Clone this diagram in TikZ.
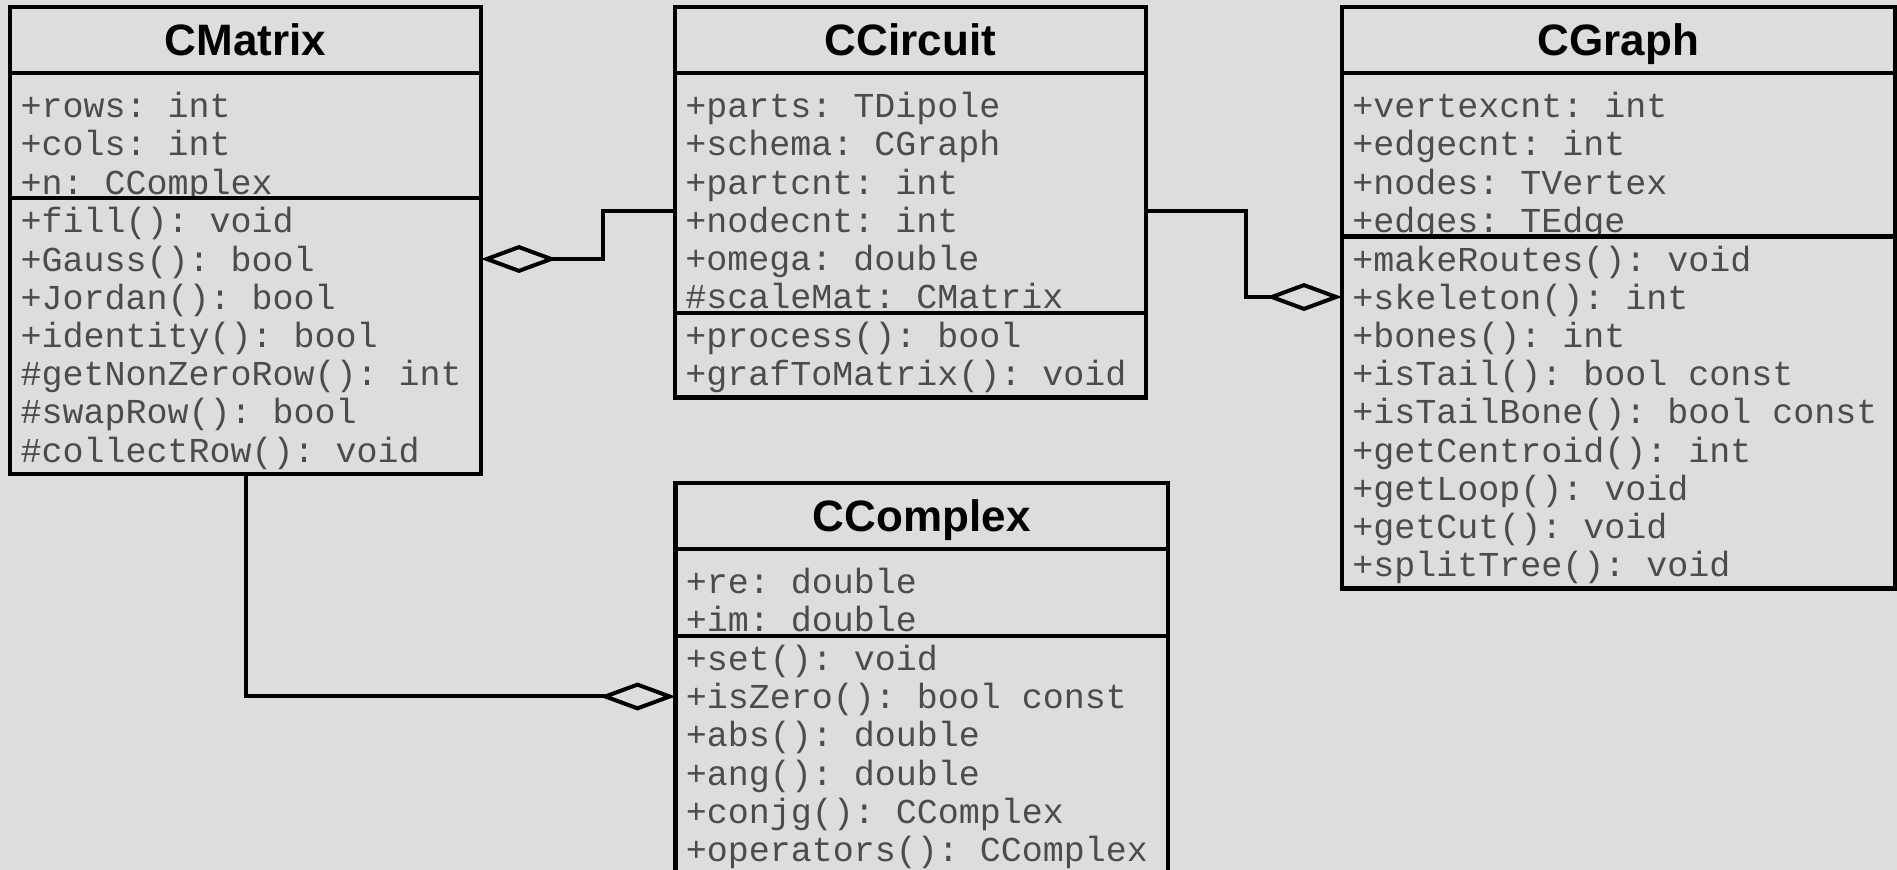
\documentclass[tikz,border=0pt]{standalone}
\usepackage{fontspec}
\usetikzlibrary{arrows.meta,positioning}
\newfontfamily\headfont{Liberation Sans}
\newfontfamily\memberfont{Liberation Mono}
\newcommand\memberstyle{\memberfont\fontsize{17.5}{19.1}\selectfont\frenchspacing}
% fixed-width blanks inside the member lists
\newcommand\memberspace{\spaceskip=10.5pt\relax\xspaceskip=10.5pt\relax}
\definecolor{bgcolor}{RGB}{221,221,221}

\begin{document}
\begin{tikzpicture}[x=0.5pt, y=-0.5pt,
  classhead/.style={draw, line width=2.2pt, fill=bgcolor, outer sep=0pt, inner sep=0pt,
                    minimum height=33pt, text height=15.8pt, text depth=0pt,
                    font=\headfont\fontsize{22}{26}\selectfont\bfseries},
  members/.style={draw, line width=2.2pt, fill=bgcolor, outer sep=0pt,
                  inner xsep=5.2pt, inner ysep=0pt, text=black!70,
                  font=\memberstyle, execute at begin node={\memberspace}},
  attrbox/.style={members, text height=22.3pt},
  opbox/.style={members, text height=17.4pt},
  aggregation/.style={-{Diamond[open, length=38pt, width=14pt, line width=2pt]}, line width=2pt}
]
\path[use as bounding box, fill=bgcolor] (0,0) rectangle (1897,870);

% CMatrix
\node[classhead, minimum width=235.4pt, anchor=north west] (matrix) at (10.2,7.2) {CMatrix};
\node[attrbox, text width=225pt, text depth=40.2pt, below=0pt of matrix] (matrix-attr)
  {+rows: int\\+cols: int\\+n: CComplex};
\node[opbox, text width=225pt, text depth=120.4pt, below=0pt of matrix-attr] (matrix-ops)
  {+fill(): void\\+Gauss(): bool\\+Jordan(): bool\\+identity(): bool\\
   \#getNonZeroRow(): int\\\#swapRow(): bool\\\#collectRow(): void};

% CCircuit
\node[classhead, minimum width=235.5pt, anchor=north west] (circuit) at (675,7.2) {CCircuit};
\node[attrbox, text width=225.1pt, text depth=97.5pt, below=0pt of circuit] (circuit-attr)
  {+parts: TDipole\\+schema: CGraph\\+partcnt: int\\+nodecnt: int\\+omega: double\\
   \#scaleMat: CMatrix};
\node[opbox, text width=225.1pt, text depth=24.9pt, below=0pt of circuit-attr] (circuit-ops)
  {+process(): bool\\+grafToMatrix(): void};

% CGraph
\node[classhead, minimum width=276.5pt, anchor=north west] (graph) at (1342,7.2) {CGraph};
\node[attrbox, text width=266.1pt, text depth=59.3pt, below=0pt of graph] (graph-attr)
  {+vertexcnt: int\\+edgecnt: int\\+nodes: TVertex\\+edges: TEdge};
\node[opbox, text width=266.1pt, text depth=158.6pt, below=0pt of graph-attr] (graph-ops)
  {+makeRoutes(): void\\+skeleton(): int\\+bones(): int\\+isTail(): bool const\\
   +isTailBone(): bool const\\+getCentroid(): int\\+getLoop(): void\\+getCut(): void\\
   +splitTree(): void};

% CComplex
\node[classhead, minimum width=246.25pt, anchor=north west] (complex) at (675.5,483) {CComplex};
\node[attrbox, text width=235.85pt, text depth=21.1pt, below=0pt of complex] (complex-attr)
  {+re: double\\+im: double};
\node[opbox, text width=235.85pt, text depth=101.3pt, below=0pt of complex-attr] (complex-ops)
  {+set(): void\\+isZero(): bool const\\+abs(): double\\+ang(): double\\
   +conjg(): CComplex\\+operators(): CComplex};

% aggregations
\draw[aggregation] (circuit-attr.west |- 0,211) -- ++(-72,0) |- (matrix-ops.east |- 0,259);
\draw[aggregation] (circuit-attr.east |- 0,211) -- ++(100,0) |- (graph-ops.west |- 0,297);
\draw[aggregation] (matrix-ops.south) |- (complex-ops.west |- 0,696.5);
\end{tikzpicture}
\end{document}
